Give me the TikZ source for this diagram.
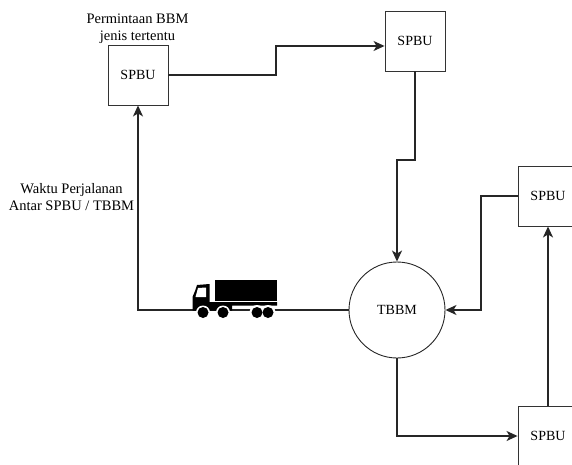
\documentclass[tikz,border=0pt]{standalone}
\usepackage{fontspec}
\setmainfont{Liberation Serif}
\usetikzlibrary{arrows.meta}
\tikzset{
  boxnode/.style={draw=black!80,line width=0.9pt,minimum size=60pt,inner sep=0pt,font=\fontsize{14}{15}\selectfont},
  hubnode/.style={circle,draw=black!85,line width=0.9pt,minimum size=96pt,inner sep=0pt,font=\fontsize{14}{15}\selectfont},
  lab/.style={align=center,inner sep=0pt,font=\fontsize{14.5}{16.5}\selectfont},
  conn/.style={draw=black!85,line width=1.4pt,-{Stealth[length=11pt,width=10pt,inset=3pt]}}
}
\begin{document}
\begin{tikzpicture}[x=1pt,y=-1pt]
\useasboundingbox (0,0) rectangle (572,465);
\clip (0,0) rectangle (572,465);
\node[boxnode] (a) at (138,75) {SPBU};
\node[boxnode] (b) at (415,41) {SPBU};
\node[boxnode] (c) at (548,196) {SPBU};
\node[boxnode] (d) at (548,436) {SPBU};
\node[hubnode] (t) at (397,310) {TBBM};
\node[lab,anchor=center] (l1) at (137.5,28.5) {Permintaan BBM\\jenis tertentu};
\node[lab,anchor=center] (l2) at (71.5,197) {Waktu Perjalanan\\Antar SPBU / TBBM};
\coordinate (ab1) at (276,75);
\coordinate (ab2) at (276,46);
\coordinate (bt1) at (415,160);
\coordinate (bt2) at (397,160);
\coordinate (ct1) at (481,196);
\coordinate (ct2) at (481,310);
\coordinate (td1) at (397,436);
\coordinate (ta1) at (138,310);
\draw[conn] (a.east |- ab1) -- (ab1) -- (ab2) -- (b.west |- ab2);
\draw[conn] (b.south) -- (bt1) -- (bt2) -- (t.north);
\draw[conn] (c.west) -- (ct1) -- (ct2) -- (t.east);
\draw[conn] (d.north) -- (c.south);
\draw[conn] (t.south) -- (td1) -- (d.west);
\draw[conn] (t.west) -- (ta1) -- (a.south);
% truck
\fill[black] (215,280) rectangle (277,301);
\fill[black] (192.5,310.5) -- (192.5,297) -- (195,291) -- (197,285) -- (209.5,284) -- (209.5,302) -- (277,302) -- (277,305.5) -- (232,305.5) -- (232,310.5) -- cycle;
\fill[white] (198,288) -- (206,287.5) -- (206,297) -- (195.5,297) -- cycle;
\foreach \wx in {203,223}{
  \fill[white] (\wx,312.5) circle (7);
}
\fill[white] (257,312.5) circle (7.5);
\fill[white] (268,312.5) circle (7.5);
\foreach \wx in {203,223,257,268}{
  \fill[black] (\wx,312.5) circle (5.5);
}
\end{tikzpicture}
\end{document}
